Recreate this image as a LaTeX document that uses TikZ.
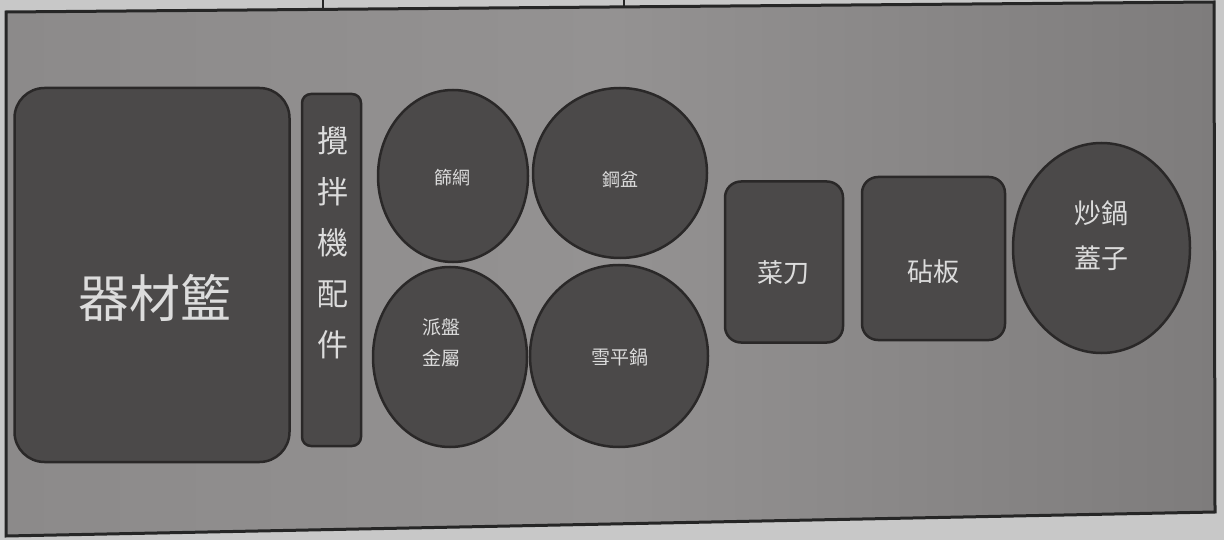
\documentclass[tikz,border=0pt]{standalone}
\usepackage{fontspec}
\newfontfamily\cjk{Noto Sans CJK TC}
\usetikzlibrary{shapes.geometric}
\definecolor{paper}{HTML}{C8C8C8}
\definecolor{boardL}{HTML}{8C8A8A}
\definecolor{boardM}{HTML}{949292}
\definecolor{boardR}{HTML}{7E7C7C}
\definecolor{itemfill}{HTML}{4B4949}
\definecolor{itemline}{HTML}{2A2828}
\definecolor{itemtext}{HTML}{DCDCDC}
\tikzset{
  item/.style={draw=itemline, line width=2.5pt, fill=itemfill, inner sep=0pt},
  roundbox/.style={item, rectangle, rounded corners=#1},
  disc/.style={item, ellipse},
  lbl/.style={text=itemtext, inner sep=0pt, align=center, font=\cjk\fontsize{#1}{#1}\selectfont},
}
\begin{document}
\begin{tikzpicture}[x=1pt,y=-1pt]
\useasboundingbox (0,0) rectangle (1224,540);
% paper
\fill[paper] (0,0) rectangle (1224,540);
% board
\shade[left color=boardL, right color=boardR, middle color=boardM]
  (6,12) -- (1214,2) -- (1215,512) -- (6,536) -- cycle;
\draw[line width=3pt, black!85] (6,12) -- (1214,2) -- (1215,512) -- (6,536) -- cycle;
% top strip separators
\coordinate (s1a) at (323,0); \coordinate (s1b) at (323,10);
\coordinate (s2a) at (624,0); \coordinate (s2b) at (624,8);
\draw[line width=1.5pt, black!85] (s1a) -- (s1b);
\draw[line width=1.5pt, black!85] (s2a) -- (s2b);
% shapes
\node[roundbox=30pt, minimum width=275pt, minimum height=374pt] (basket) at (152,275) {};
\node[roundbox=9pt, minimum width=59pt, minimum height=352pt] (mixer) at (331.5,270) {};
\node[disc, minimum width=150pt, minimum height=172pt] (sieve) at (453,176) {};
\node[disc, minimum width=174pt, minimum height=170pt] (bowl) at (620,173) {};
\node[disc, minimum width=154pt, minimum height=180pt] (pie) at (450,357) {};
\node[disc, minimum width=178pt, minimum height=182pt] (pan) at (619,356) {};
\node[roundbox=16pt, minimum width=118pt, minimum height=161pt] (knife) at (784,262) {};
\node[roundbox=16pt, minimum width=143pt, minimum height=163pt] (board) at (933.5,258.5) {};
\node[disc, minimum width=177pt, minimum height=210pt] (wok) at (1101.5,248) {};
% labels
\node[lbl=51] (basketT) at (155,298) {器材籃};
\node[lbl=31, font=\cjk\fontsize{31}{51}\selectfont] (mixerT) at (333,243) {攪\\拌\\機\\配\\件};
\node[lbl=18] (sieveT) at (452,178) {篩網};
\node[lbl=18] (bowlT) at (620,180) {鋼盆};
\node[lbl=19, font=\cjk\fontsize{19}{31}\selectfont] (pieT) at (441,343) {派盤\\金屬};
\node[lbl=19] (panT) at (620,357) {雪平鍋};
\node[lbl=26] (knifeT) at (783,273) {菜刀};
\node[lbl=26] (boardT) at (933,272) {砧板};
\node[lbl=27, font=\cjk\fontsize{27}{45}\selectfont] (wokT) at (1101,236) {炒鍋\\蓋子};
\end{tikzpicture}
\end{document}
